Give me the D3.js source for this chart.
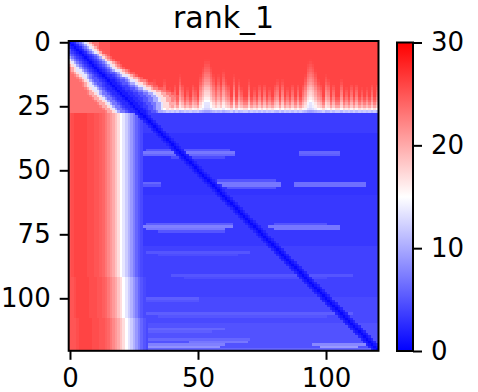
<!DOCTYPE html>
<html lang="en">
<head>
    <meta charset="utf-8">
    <title>rank_1</title>
    <script type="text/javascript" src="https://d3js.org/d3.v7.min.js"></script>
    <style type="text/css">
        body { margin: 0; background: #fff; }
        svg { font-family: "DejaVu Sans", sans-serif; }
    </style>
</head>
<body>
<script type="text/javascript">

    // residues 0..120, first 28 are the loose N-terminal tail
    var nRes = 121;
    var nTermEnd = 27;

    // N-terminal rows: far-field PAE per row (right of the diagonal band)
    var topRowBase = [29.5, 29.5, 29.5, 29.5, 29.5, 29.5, 29.5, 29.5, 29.5, 29.5,
                      29.5, 29.5, 29.3, 29.2, 29, 28.8, 28.5, 28, 27.5, 27,
                      26.5, 26, 25, 24, 22.5, 20.5, 17, 12];
    // how much the vertical light streaks show in each N-terminal row
    var streakRowWeight = [0.15, 0.15, 0.2, 0.2, 0.25, 0.3, 0.35, 0.4, 0.45, 0.5,
                           0.55, 0.6, 0.65, 0.7, 0.75, 0.8, 0.85, 0.9, 0.95, 1,
                           1, 1, 1, 1, 1, 0.8, 0.5, 0.3];
    var streakCols = [29, 30, 32, 33, 35, 37, 39, 41, 43, 44, 46, 48, 49, 51, 52, 53,
                      54, 55, 56, 57, 58, 59, 60, 61, 62, 64, 66, 67, 70, 72, 74, 76,
                      78, 80, 81, 83, 85, 87, 89, 91, 92, 93, 94, 95, 96, 97, 98, 100,
                      101, 103, 106, 108, 110, 112, 114, 116, 118, 120];
    var streakDips = [2, 3, 3, 4, 2, 4, 2, 3, 5, 3, 2, 3, 2, 5, 7, 9,
                      9, 7, 5, 3, 5, 3, 6, 4, 3, 5, 4, 2, 4, 2, 3, 3,
                      2, 3, 4, 4, 2, 3, 3, 3, 5, 8, 9, 8, 6, 4, 3, 5,
                      4, 3, 4, 2, 3, 3, 2, 2, 3, 3];
    // far-field ceiling by column for the N-terminal rows
    var rampCols = [0, 8, 12, 16, 20, 25, 30, 36];
    var rampVals = [22, 23, 25, 26.5, 27.5, 28.5, 29, 29.5];
    var nTermLeft = 23.5;

    // PAE against (scaled) distance from the diagonal in the N-terminal block
    var bandVals = [0.5, 1.5, 2.5, 3.5, 5, 7, 10, 13.5, 17, 20, 22.5, 24.5, 26];
    var bandHalfL = [6, 6, 6, 6, 6.5, 6.5, 6.5, 7, 7, 7, 7, 7.5, 7.5, 7.5, 8, 8, 8, 8.5,
                     8.5, 8.5, 9, 9, 9, 9, 9, 9, 9, 9];
    var bandHalfR = [6, 6, 6, 6, 6, 6.5, 6.5, 6.5, 7, 7, 7, 7.5, 8, 8.5, 9, 9.5, 10, 10.5,
                     11, 12, 13, 13, 13, 12, 12, 11, 10, 10];

    // folded domain rows 28..120: columns 0..28 (red tail -> blue domain)
    var leftCol = [25, 25.5, 26, 26, 26, 26, 26, 25.5, 25.5, 25.5, 25, 25, 24.5, 24, 23,
                   22, 21, 20, 18.5, 17, 15, 13.5, 12, 10.5, 9, 7.5, 6, 5, 4.3];
    var shiftRows = [28, 92, 108];
    var shiftCols = [0, 1, 2];
    var baseRows = [28, 36, 60, 80, 100, 110];
    var baseVals = [3.5, 3, 3.3, 3.8, 4.3, 4.8];
    var diagVals = [0.4, 1.3, 2.2];
    // lighter horizontal streaks: [row, firstCol, lastCol, value]
    var streaks = [
        [42, 30, 62, 5], [43, 28, 64, 7], [44, 28, 64, 6], [45, 40, 60, 4.5],
        [43, 90, 105, 6], [44, 90, 105, 5.5],
        [54, 58, 80, 5], [55, 58, 82, 7], [56, 60, 82, 7], [57, 62, 80, 5],
        [55, 88, 115, 6.5], [56, 88, 115, 6.5], [55, 28, 35, 6], [56, 28, 35, 5],
        [71, 30, 63, 5.5], [72, 27, 63, 7.5], [73, 30, 60, 7], [74, 35, 60, 5],
        [71, 80, 100, 5], [72, 78, 105, 7], [73, 80, 105, 7],
        [82, 30, 70, 5], [83, 35, 65, 4.5], [91, 40, 110, 5], [92, 45, 100, 4.5],
        [100, 28, 50, 5.5], [101, 28, 50, 5], [106, 30, 110, 5.5], [107, 35, 100, 5],
        [112, 28, 60, 6], [113, 30, 55, 5.5], [116, 30, 70, 6], [117, 47, 69, 7],
        [118, 28, 60, 7.5], [119, 30, 58, 8.5], [118, 95, 115, 8], [119, 98, 112, 9],
        [120, 28, 118, 6]
    ];

    var xTicks = [0, 50, 100];
    var yTicks = [0, 25, 50, 75, 100];
    var cbTicks = [0, 10, 20, 30];

    function step(keys, vals, v) {
        var out = vals[0];
        keys.forEach(function(k, n) { if (v >= k) out = vals[n]; });
        return out;
    }

    function pae(i, j) {
        var v;
        if (i <= nTermEnd) {
            var k = Math.abs(i - j);
            var half = j >= i ? bandHalfR[i] : bandHalfL[i];
            var b = bandVals[Math.min(bandVals.length - 1, Math.round(k * 7 / half))];
            var far;
            if (j < i) {
                far = nTermLeft;
            } else {
                far = Math.min(topRowBase[i], step(rampCols, rampVals, j));
                var s = streakCols.indexOf(j);
                if (s >= 0) far -= streakDips[s] * streakRowWeight[i];
            }
            v = Math.min(b, far);
        } else {
            var idx = j - step(shiftRows, shiftCols, i);
            if (idx < leftCol.length) {
                v = leftCol[Math.max(0, idx)];
            } else {
                v = step(baseRows, baseVals, i);
                streaks.forEach(function(r) {
                    if (r[0] === i && j >= r[1] && j <= r[2]) v = Math.max(v, r[3]);
                });
            }
            var d = Math.abs(i - j);
            if (d < diagVals.length) v = Math.min(v, diagVals[d]);
        }
        return Math.max(0, Math.min(30, v));
    }

    var cells = [];
    for (var i = 0; i < nRes; i++) {
        for (var j = 0; j < nRes; j++) {
            cells.push({row: i, col: j, value: pae(i, j)});
        }
    }

    var width = 478, height = 392;
    var plotLeft = 68.7, plotRight = 378.5, plotTop = 41, plotBottom = 350.8;

    var color = d3.scaleLinear()
        .domain([0, 15, 30])
        .range(["#0000ff", "#ffffff", "#ff0000"]);

    var xBand = d3.scaleBand().domain(d3.range(nRes)).range([plotLeft, plotRight]);
    var yBand = d3.scaleBand().domain(d3.range(nRes)).range([plotTop, plotBottom]);
    var x = d3.scaleLinear().domain([-0.5, nRes - 0.5]).range([plotLeft, plotRight]);
    var y = d3.scaleLinear().domain([-0.5, nRes - 0.5]).range([plotTop, plotBottom]);

    var svg = d3.select("body")
        .append("svg")
        .attr("width", width)
        .attr("height", height);

    svg.append("g")
        .attr("shape-rendering", "crispEdges")
        .selectAll("rect")
        .data(cells)
        .enter()
        .append("rect")
        .attr("x", function(d) { return xBand(d.col); })
        .attr("y", function(d) { return yBand(d.row); })
        .attr("width", function(d) { return Math.min(plotRight, xBand(d.col) + xBand.bandwidth() + 1) - xBand(d.col); })
        .attr("height", function(d) { return Math.min(plotBottom, yBand(d.row) + yBand.bandwidth() + 1) - yBand(d.row); })
        .attr("fill", function(d) { return color(d.value); });

    svg.append("rect")
        .attr("x", plotLeft).attr("y", plotTop)
        .attr("width", plotRight - plotLeft).attr("height", plotBottom - plotTop)
        .attr("fill", "none").attr("stroke", "#000").attr("stroke-width", 2);

    var xAxis = svg.append("g")
        .attr("transform", "translate(0," + plotBottom + ")")
        .call(d3.axisBottom(x).tickValues(xTicks).tickSize(9).tickPadding(9));
    var yAxis = svg.append("g")
        .attr("transform", "translate(" + plotLeft + ",0)")
        .call(d3.axisLeft(y).tickValues(yTicks).tickSize(9).tickPadding(9));

    // colorbar
    var cbX = 397, cbW = 16, cbTop = 42.5, cbBottom = 351;
    var cb = d3.scaleLinear().domain([0, 30]).range([cbBottom, cbTop]);

    var grad = svg.append("defs").append("linearGradient")
        .attr("id", "cbGrad")
        .attr("x1", 0).attr("y1", 1).attr("x2", 0).attr("y2", 0);
    [0, 15, 30].forEach(function(v) {
        grad.append("stop").attr("offset", v / 30).attr("stop-color", color(v));
    });

    svg.append("rect")
        .attr("x", cbX).attr("y", cbTop)
        .attr("width", cbW).attr("height", cbBottom - cbTop)
        .attr("fill", "url(#cbGrad)")
        .attr("stroke", "#000").attr("stroke-width", 2);

    var cbAxis = svg.append("g")
        .attr("transform", "translate(" + (cbX + cbW) + ",0)")
        .call(d3.axisRight(cb).tickValues(cbTicks).tickSize(9).tickPadding(9));

    [xAxis, yAxis, cbAxis].forEach(function(g) {
        g.select(".domain").remove();
        g.selectAll(".tick line").attr("stroke", "#000").attr("stroke-width", 2);
        g.selectAll(".tick text")
            .attr("fill", "#000")
            .style("font-family", "DejaVu Sans")
            .style("font-size", "26px");
    });

    svg.append("text")
        .attr("x", (plotLeft + plotRight) / 2)
        .attr("y", 28)
        .attr("text-anchor", "middle")
        .style("font-family", "DejaVu Sans")
        .style("font-size", "30px")
        .attr("fill", "#000")
        .text("rank_1");

</script>
</body>
</html>
